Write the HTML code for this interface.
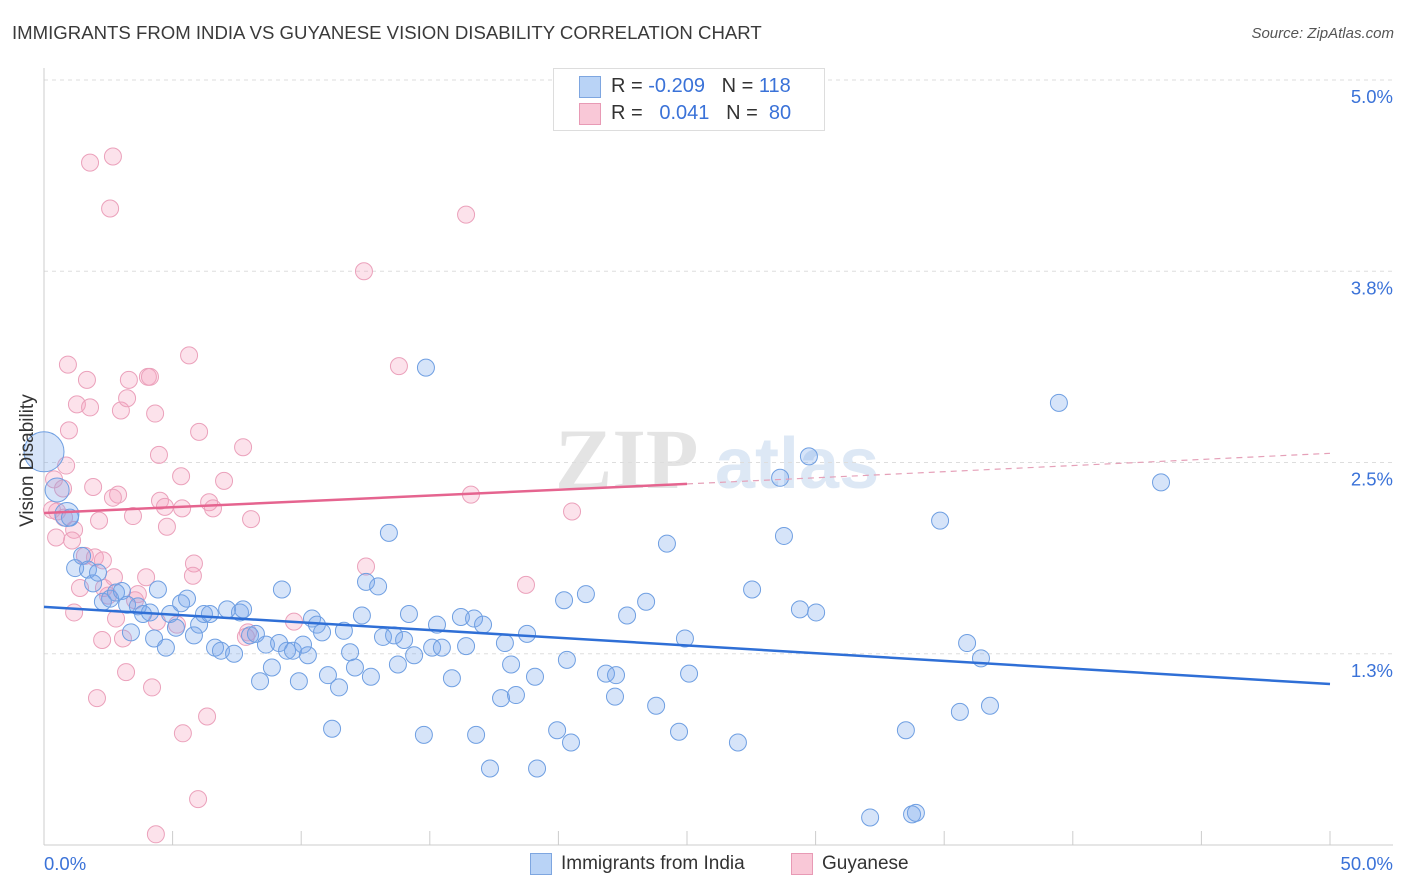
<!DOCTYPE html>
<html><head><meta charset="utf-8"><style>
body{margin:0;background:#fff;font-family:"Liberation Sans",sans-serif;}
#wrap{position:relative;width:1406px;height:892px;overflow:hidden;}
.t{position:absolute;white-space:nowrap;}
</style></head><body>
<div id="wrap">
<div class="t" style="left:12px;top:22px;font-size:18.6px;color:#3a3a3a;">IMMIGRANTS FROM INDIA VS GUYANESE VISION DISABILITY CORRELATION CHART</div>
<div class="t" style="right:12px;top:25px;font-size:15px;color:#555;font-style:italic;">Source: ZipAtlas.com</div>
<svg id="svg" width="1406" height="892" style="position:absolute;left:0;top:0"></svg>
<div class="t" style="left:553px;top:68px;width:270px;height:61px;border:1px solid #ddd;background:#fff;">
 <div style="position:absolute;left:25px;top:7px;width:20px;height:20px;background:#b9d3f6;border:1px solid #7ea6e0;"></div>
 <div style="position:absolute;left:25px;top:34px;width:20px;height:20px;background:#f9c8d7;border:1px solid #e89ab5;"></div>
 <div class="t" style="left:57px;top:6px;font-size:20px;color:#333;">R = <span style="color:#3a72d8">-0.209</span>&nbsp;&nbsp;&nbsp;N = <span style="color:#3a72d8">118</span></div>
 <div class="t" style="left:57px;top:33px;font-size:20px;color:#333;">R = &nbsp;&nbsp;<span style="color:#3a72d8">0.041</span>&nbsp;&nbsp;&nbsp;N = &nbsp;<span style="color:#3a72d8">80</span></div>
</div>
<div class="t" style="left:530px;top:853px;width:20px;height:20px;background:#b9d3f6;border:1px solid #7ea6e0;"></div>
<div class="t" style="left:561px;top:853px;font-size:19px;color:#333;">Immigrants from India</div>
<div class="t" style="left:791px;top:853px;width:20px;height:20px;background:#f9c8d7;border:1px solid #e89ab5;"></div>
<div class="t" style="left:822px;top:853px;font-size:19px;color:#333;">Guyanese</div>
<div class="t" style="left:17px;top:527px;font-size:19px;color:#333;transform:rotate(-90deg);transform-origin:0 0;">Vision Disability</div>
</div>
<script>
const yTicks=[5.0,3.75,2.5,1.25];
const yTickLabels=["5.0%","3.8%","2.5%","1.3%"];
const xTickLabels=["0.0%","50.0%"];
const indiaX=[0.0,0.51,0.89,1.01,1.21,1.48,1.71,1.91,2.10,2.29,2.57,2.80,3.03,3.23,3.38,3.65,3.85,4.12,4.28,4.43,4.74,4.90,5.13,5.33,5.56,5.83,6.03,6.22,6.45,6.65,6.88,7.12,7.39,7.62,7.74,8.01,8.24,8.40,8.63,8.86,9.14,9.25,9.45,9.68,9.91,10.07,10.26,10.42,10.61,10.81,11.04,11.20,11.47,11.66,11.90,12.09,12.36,12.52,12.71,12.99,13.18,13.41,13.61,13.76,14.00,14.19,14.39,14.77,14.85,15.09,15.28,15.47,15.86,16.21,16.41,16.72,16.80,17.07,17.34,17.77,17.92,18.16,18.35,18.78,19.09,19.17,19.95,20.22,20.33,20.49,21.07,21.85,22.20,22.24,22.67,23.41,23.80,24.22,24.69,24.92,25.08,26.98,27.53,28.62,28.77,29.39,29.74,30.02,32.12,33.51,33.75,33.90,34.84,35.61,35.89,36.43,36.78,39.46,43.43];
const indiaY=[2.57,2.32,2.16,2.14,1.81,1.89,1.80,1.71,1.78,1.59,1.61,1.65,1.66,1.57,1.39,1.56,1.51,1.52,1.35,1.67,1.29,1.51,1.42,1.58,1.61,1.37,1.44,1.51,1.51,1.29,1.27,1.54,1.25,1.52,1.54,1.37,1.38,1.07,1.31,1.16,1.32,1.67,1.27,1.27,1.07,1.31,1.24,1.48,1.44,1.39,1.11,0.76,1.03,1.40,1.26,1.16,1.50,1.72,1.10,1.69,1.36,2.04,1.37,1.18,1.34,1.51,1.24,0.72,3.12,1.29,1.44,1.29,1.09,1.49,1.30,1.48,0.72,1.44,0.50,0.96,1.32,1.18,0.98,1.38,1.10,0.50,0.75,1.60,1.21,0.67,1.64,1.12,0.97,1.11,1.50,1.59,0.91,1.97,0.74,1.35,1.12,0.67,1.67,2.40,2.02,1.54,2.54,1.52,0.18,0.75,0.20,0.21,2.12,0.87,1.32,1.22,0.91,2.89,2.37];
const guyX=[1.79,2.68,2.57,16.41,12.44,13.80,5.64,0.93,1.67,3.30,4.04,4.12,1.28,1.79,2.99,3.23,4.32,0.97,6.03,7.74,4.47,0.86,5.33,7.00,0.39,0.74,1.91,2.88,2.68,4.51,4.70,5.37,6.42,6.57,16.60,20.53,0.31,0.51,0.78,2.14,3.46,4.78,8.05,1.17,0.47,1.09,1.59,1.98,2.29,5.83,12.52,2.72,3.97,5.79,2.33,3.65,18.74,1.40,3.54,1.17,2.80,4.39,5.17,9.72,7.93,7.85,2.26,3.07,3.19,4.20,2.06,6.34,5.40,5.99,4.35,2.49];
const guyY=[4.46,4.50,4.16,4.12,3.75,3.13,3.20,3.14,3.04,3.04,3.06,3.06,2.88,2.86,2.84,2.92,2.82,2.71,2.70,2.60,2.55,2.48,2.41,2.38,2.39,2.33,2.34,2.29,2.27,2.25,2.21,2.20,2.24,2.20,2.29,2.18,2.19,2.18,2.14,2.12,2.15,2.08,2.13,2.06,2.01,1.99,1.89,1.88,1.86,1.84,1.82,1.75,1.75,1.76,1.68,1.64,1.70,1.68,1.60,1.52,1.48,1.46,1.44,1.46,1.39,1.36,1.34,1.35,1.13,1.03,0.96,0.84,0.73,0.30,0.07,1.63];
const indiaTrend=[1.556,1.052];
const guyTrend=[2.17,2.36,2.56];
const X0=44,X1=1330,Y0=845,Y1=80;
const sx=v=>X0+(v/50)*(X1-X0);
const sy=v=>Y0-(v/5)*(Y0-Y1);
const svg=document.getElementById('svg');const NS='http://www.w3.org/2000/svg';
function mk(t,a,p){const e=document.createElementNS(NS,t);for(const k in a)e.setAttribute(k,a[k]);(p||svg).appendChild(e);return e;}
let wm=mk('text',{x:555,y:488,'font-size':86,fill:'#e4e4e4','font-family':'Liberation Serif','font-weight':'bold'});wm.textContent='ZIP';


let wm2=mk('text',{x:715,y:488,'font-size':72,fill:'#dde8f5','font-family':'Liberation Sans','font-weight':'bold'});wm2.textContent='atlas';


yTicks.forEach((v,i)=>{
 const g=mk('line',{x1:X0,x2:1393,y1:sy(v),y2:sy(v),stroke:'#ddd','stroke-dasharray':'4,4'});
 
 
 const t=mk('text',{x:1393,y:sy(v)+23,'text-anchor':'end','font-size':18.5,fill:'#3a72d8','font-family':'Liberation Sans'});t.textContent=yTickLabels[i];
 
 
});
const ax=mk('line',{x1:X0,x2:1393,y1:Y0,y2:Y0,stroke:'#ccc'});


const ay=mk('line',{x1:X0,x2:X0,y1:68,y2:Y0,stroke:'#ccc'});


for(let i=0;i<=10;i++){const tk=mk('line',{x1:sx(i*5),x2:sx(i*5),y1:Y0,y2:Y0-14,stroke:'#ccc'});
 
 }
[[0,'start',X0],[1,'end',1393]].forEach(([i,a,x])=>{const t=mk('text',{x:x,y:870,'text-anchor':a,'font-size':18.5,fill:'#3a72d8','font-family':'Liberation Sans'});t.textContent=xTickLabels[i];
 
 });
guyX.forEach((x,i)=>{const c=mk('circle',{cx:sx(x),cy:sy(guyY[i]),r:8.5,fill:'rgba(244,160,188,0.3)',stroke:'#eba1bb','stroke-width':1});
 
 });
indiaX.forEach((x,i)=>{const r=i==0?20:(i<3?12:8.5);const c=mk('circle',{cx:sx(x),cy:sy(indiaY[i]),r:r,fill:'rgba(120,165,235,0.3)',stroke:'#6f9fe2','stroke-width':1});
 
 });
const bl=mk('line',{x1:sx(0),y1:sy(indiaTrend[0]),x2:sx(50),y2:sy(indiaTrend[1]),stroke:'#2f6fd6','stroke-width':2.5});


const pl=mk('line',{x1:sx(0),y1:sy(guyTrend[0]),x2:sx(25),y2:sy(guyTrend[1]),stroke:'#e5648f','stroke-width':2.5});


const pd=mk('line',{x1:sx(25),y1:sy(guyTrend[1]),x2:sx(50),y2:sy(guyTrend[2]),stroke:'#e5a0b8','stroke-width':1.2,'stroke-dasharray':'6,5'});


</script>
</body></html>
